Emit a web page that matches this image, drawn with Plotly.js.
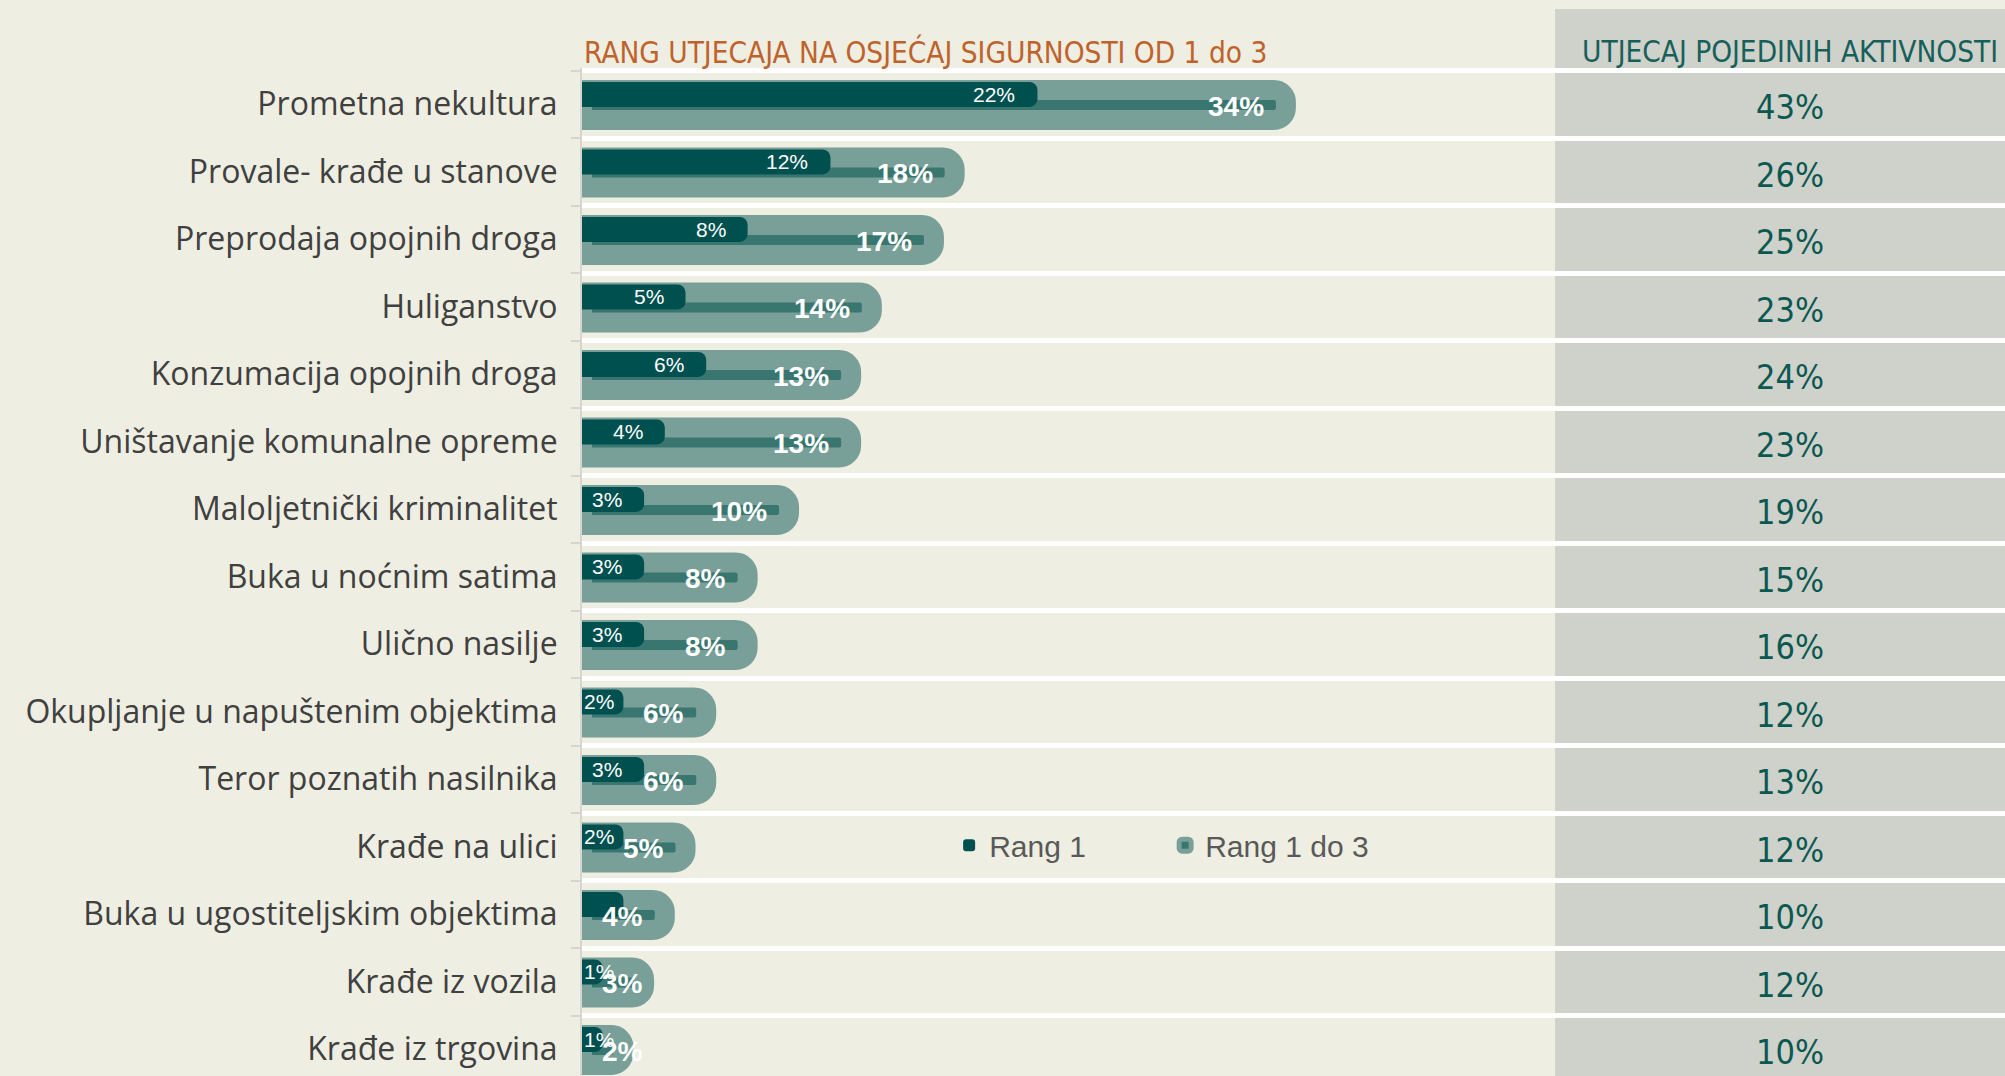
<!DOCTYPE html>
<html>
<head>
<meta charset="utf-8">
<script src="https://cdn.plot.ly/plotly-3.0.1.min.js"></script>
<style>
  html, body { margin: 0; padding: 0; background: #EEEEE2; }
  #chart { width: 2005px; height: 1076px; }
</style>
</head>
<body>
<div id="chart"></div>
<script>
// ---- data ----
const categories = [
  'Prometna nekultura',
  'Provale- krađe u stanove',
  'Preprodaja opojnih droga',
  'Huliganstvo',
  'Konzumacija opojnih droga',
  'Uništavanje komunalne opreme',
  'Maloljetnički kriminalitet',
  'Buka u noćnim satima',
  'Ulično nasilje',
  'Okupljanje u napuštenim objektima',
  'Teror poznatih nasilnika',
  'Krađe na ulici',
  'Buka u ugostiteljskim objektima',
  'Krađe iz vozila',
  'Krađe iz trgovina'
];
const rang1 = [22, 12, 8, 5, 6, 4, 3, 3, 3, 2, 3, 2, 2, 1, 1];
const rang1Labels = ['22%', '12%', '8%', '5%', '6%', '4%', '3%', '3%', '3%', '2%', '3%', '2%', '', '1%', '1%'];
const rang1do3 = [34, 18, 17, 14, 13, 13, 10, 8, 8, 6, 6, 5, 4, 3, 2];
const utjecaj = [43, 26, 25, 23, 24, 23, 19, 15, 16, 12, 13, 12, 10, 12, 10];

const title1 = 'RANG UTJECAJA NA OSJEĆAJ SIGURNOSTI OD 1 do 3';
const title2 = 'UTJECAJ POJEDINIH AKTIVNOSTI';

// ---- styling ----
const BG = '#EEEEE2';
const DARK = '#00504F';
const MID = '#3A7670';
const LIGHT = '#78A098';
const PANEL = '#CFD1CB';
const NARROW = '"DejaVu Sans Condensed", "Liberation Sans Narrow", "Arial Narrow", "Roboto", sans-serif';
const ARIAL = '"Liberation Sans", Arial, sans-serif';
// minimum label anchor (in axis units) so labels of tiny bars stay inside the plot
const DARK_LABEL_MIN = 2.6;
const BOLD_LABEL_MIN = 4.0;
const COL2_X = 0.522;

const traces = [
  {
    type: 'bar', orientation: 'h', name: 'Rang 1 do 3',
    y: categories, x: rang1do3,
    xaxis: 'x', yaxis: 'y',
    width: 0.444, offset: -0.211,
    marker: { color: MID, line: { color: LIGHT, width: 20 }, cornerradius: 12 },
    legendrank: 2, hoverinfo: 'skip'
  },
  {
    type: 'bar', orientation: 'h', name: 'Rang 1',
    y: categories, x: rang1,
    xaxis: 'x', yaxis: 'y',
    width: 0.37, offset: -0.33,
    marker: { color: DARK, line: { width: 0 }, cornerradius: 8 },
    legendrank: 1, hoverinfo: 'skip'
  },
  {
    // invisible anchor trace for the right-hand column so x2 is created
    type: 'scatter', mode: 'markers', showlegend: false,
    y: categories, x: utjecaj.map(() => COL2_X),
    xaxis: 'x2', yaxis: 'y',
    marker: { size: 1, opacity: 0 },
    hoverinfo: 'skip'
  }
];

const darkLabels = categories.map((c, i) => ({
  xref: 'x', yref: 'y', x: Math.max(rang1[i], DARK_LABEL_MIN), y: c,
  xanchor: 'right', yanchor: 'middle', xshift: -20, yshift: 10,
  text: rang1Labels[i], showarrow: false,
  font: { family: ARIAL, size: 21, color: '#FFFFFF' }
}));
const boldLabels = categories.map((c, i) => ({
  xref: 'x', yref: 'y', x: Math.max(rang1do3[i], BOLD_LABEL_MIN), y: c,
  xanchor: 'right', yanchor: 'middle', xshift: -20, yshift: -2,
  text: rang1do3[i] + '%', showarrow: false,
  font: { family: ARIAL, size: 28, color: '#FFFFFF', weight: 'bold' }
}));
const colLabels = categories.map((c, i) => ({
  xref: 'x2', yref: 'y', x: COL2_X, y: c,
  xanchor: 'center', yanchor: 'middle', yshift: -3,
  text: utjecaj[i] + '%', showarrow: false,
  font: { family: NARROW, size: 34, color: '#0B5850', stretch: 'condensed' }
}));

const layout = {
  width: 2005, height: 1076,
  margin: { l: 582, r: 0, t: 68, b: 0, pad: 0 },
  paper_bgcolor: BG, plot_bgcolor: BG,
  barmode: 'overlay',
  hovermode: false,
  showlegend: true,
  legend: {
    orientation: 'h', x: 0.258, xanchor: 'left', y: 0.229, yanchor: 'middle',
    bgcolor: 'rgba(0,0,0,0)', entrywidth: 171, entrywidthmode: 'pixels',
    font: { family: ARIAL, size: 30, color: '#595959' }
  },
  xaxis: {
    domain: [0, 0.6838], range: [0, 47.0], visible: false, fixedrange: true
  },
  xaxis2: {
    domain: [0.6838, 1], range: [0, 1], visible: false, anchor: 'y', fixedrange: true
  },
  yaxis: {
    type: 'category', range: [14.396, -0.537],
    tickson: 'boundaries',
    showgrid: true, gridcolor: '#FFFFFF', gridwidth: 5,
    showline: true, linecolor: '#D6D6D0', linewidth: 2,
    ticks: 'outside', ticklen: 9, tickwidth: 2, tickcolor: '#D6D6D0',
    ticklabelstandoff: 16,
    tickfont: { family: '"Open Sans", sans-serif', size: 32, color: '#404040' },
    zeroline: false, fixedrange: true
  },
  shapes: [
    {
      type: 'rect', layer: 'below',
      xref: 'x2 domain', yref: 'paper',
      x0: 0, x1: 1, y0: 0, y1: 1.0585,
      fillcolor: PANEL, line: { width: 0 }
    }
  ],
  annotations: [
    {
      text: title1, showarrow: false,
      xref: 'paper', yref: 'paper', x: 0, xanchor: 'left',
      y: 1.016, yanchor: 'middle',
      font: { family: NARROW, size: 29.5, color: '#C0622B', stretch: 'condensed' }
    },
    {
      text: title2, showarrow: false,
      xref: 'x2 domain', yref: 'paper', x: COL2_X, xanchor: 'center',
      y: 1.016, yanchor: 'middle',
      font: { family: NARROW, size: 29.5, color: '#17605A', stretch: 'condensed' }
    }
  ].concat(darkLabels, boldLabels, colLabels)
};

Plotly.newPlot('chart', traces, layout, { staticPlot: true, displayModeBar: false });
</script>
</body>
</html>
